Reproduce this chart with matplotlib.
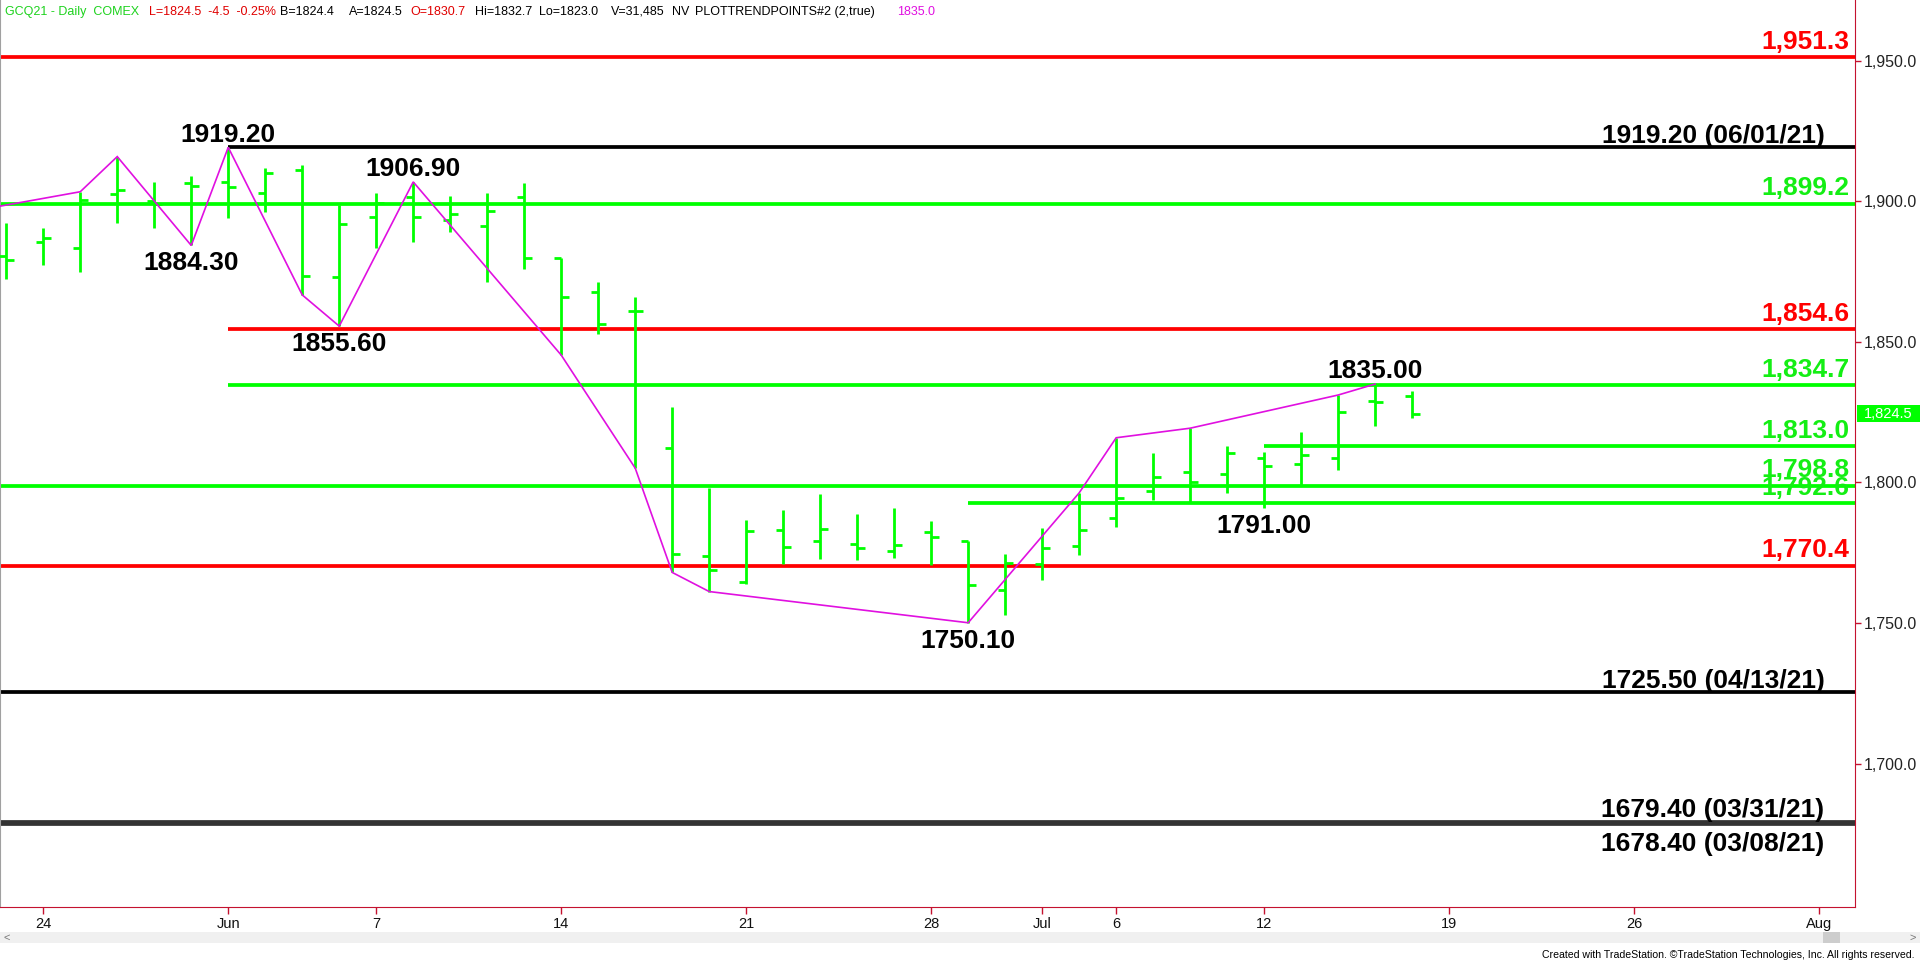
import matplotlib
matplotlib.use('Agg')
import matplotlib.pyplot as plt
from matplotlib.patches import Rectangle
from matplotlib.transforms import blended_transform_factory
import numpy as np

plt.rcParams['font.family'] = ['Liberation Sans', 'DejaVu Sans']

# daily OHLC, index 0 = 2021-05-21 (trading days only)
opens = [1880.6, 1885.5, 1883.4, 1902.5, 1900.0, 1906.5, 1907.0, 1903.1, 1911.1, 1872.9,
         1894.3, 1901.6, 1893.5, 1891.3, 1901.6, 1879.7, 1867.6, 1861.1, 1812.2, 1773.9,
         1764.5, 1783.0, 1779.3, 1778.1, 1775.7, 1782.3, 1779.3, 1761.8, 1771.0, 1777.5,
         1787.5, 1797.1, 1803.8, 1803.0, 1808.6, 1806.6, 1808.6, 1828.9, 1830.7]
highs = [1892.4, 1890.4, 1903.4, 1915.9, 1906.7, 1909.1, 1919.2, 1912.0, 1912.9, 1898.7,
         1903.1, 1906.9, 1901.9, 1903.1, 1906.4, 1880.0, 1871.2, 1866.1, 1826.7, 1798.2,
         1786.7, 1790.2, 1795.8, 1788.7, 1791.0, 1786.3, 1779.3, 1774.6, 1783.7, 1796.3,
         1815.9, 1810.4, 1819.3, 1813.0, 1810.9, 1818.1, 1831.1, 1835.0, 1832.7]
lows = [1872.2, 1877.4, 1875.0, 1892.4, 1890.4, 1884.3, 1893.9, 1896.1, 1866.7, 1855.6,
        1883.3, 1885.4, 1889.0, 1871.4, 1875.8, 1845.3, 1852.7, 1805.1, 1768.0, 1761.2,
        1763.8, 1770.9, 1772.7, 1772.4, 1773.0, 1770.7, 1750.1, 1752.9, 1765.3, 1774.2,
        1784.2, 1793.7, 1792.8, 1796.2, 1791.0, 1799.2, 1804.4, 1820.1, 1823.0]
closes = [1879.1, 1886.8, 1900.5, 1904.0, 1899.0, 1905.4, 1905.0, 1909.9, 1873.4, 1891.8,
          1899.3, 1894.3, 1895.5, 1896.6, 1879.7, 1865.9, 1856.4, 1861.1, 1774.5, 1768.9,
          1782.8, 1777.2, 1783.3, 1776.6, 1777.8, 1780.5, 1763.4, 1771.3, 1776.6, 1783.1,
          1794.3, 1801.8, 1800.0, 1810.6, 1805.9, 1809.8, 1824.9, 1828.5, 1824.5]

# trend points (swing highs / lows)
trend_idx = [-1, 2, 3, 5, 6, 8, 9, 11, 15, 17, 18, 19, 26, 29, 30, 32, 36, 37]
trend_px = [1896.3, 1903.4, 1915.9, 1884.3, 1919.2, 1866.7, 1855.6, 1906.9, 1845.3, 1805.1,
            1768.0, 1761.2, 1750.1, 1796.3, 1815.9, 1819.3, 1831.1, 1835.0]

# labelled swing points
swing_idx = [6, 11, 37, 5, 9, 26, 34]
swing_px = [1919.20, 1906.90, 1835.00, 1884.30, 1855.60, 1750.10, 1791.00]
swing_up = [True, True, True, False, False, False, False]

# horizontal levels
levels = [1951.3, 1919.2, 1899.2, 1854.6, 1834.7, 1813.0, 1798.8, 1792.6, 1770.4,
          1725.5, 1679.4, 1678.4]
level_start = [None, 6, None, 6, 6, 34, None, 26, None, None, None, None]
level_kind = ['r', 'k', 'g', 'r', 'g', 'g', 'g', 'g', 'r', 'k', 'd', 'd']
level_text = ['1,951.3', '1919.20 (06/01/21)', '1,899.2', '1,854.6', '1,834.7', '1,813.0',
              '1,798.8', '1,792.6', '1,770.4', '1725.50 (04/13/21)', '1679.40 (03/31/21)',
              '1678.40 (03/08/21)']

tick_pos = [1, 6, 10, 15, 20, 25, 28, 30, 34, 39, 44, 49]
tick_labels = ['24', 'Jun', '7', '14', '21', '28', 'Jul', '6', '12', '19', '26', 'Aug']
price_ticks = [1700, 1750, 1800, 1850, 1900, 1950]
last_price = 1824.5

GREEN = '#00ff00'
RED = '#ff0000'
MAG = '#e010e0'
AXRED = '#c4122f'
line_col = {'r': RED, 'g': GREEN, 'k': 'black', 'd': '#333333'}
text_col = {'r': RED, 'g': '#14ee14', 'k': 'black', 'd': 'black'}

W, H = 1920, 963
fig = plt.figure(figsize=(W / 100, H / 100), dpi=100)
ax = fig.add_axes([0, 56 / H, 1855 / W, 907 / H])
x0, x1 = -0.169, 49.97
ax.set_xlim(x0, x1)
ax.set_ylim(1649.0, 1971.6)

# levels
for lv, st, kd in zip(levels, level_start, level_kind):
    ax.hlines(lv, x0 if st is None else st, x1, color=line_col[kd], lw=2.7, zorder=2)

# OHLC bars
x = np.arange(len(opens))
tl = 0.2
b = ax.vlines(x, lows, highs, color=GREEN, lw=2.0, zorder=3)
o = ax.hlines(opens, x - tl, x, color=GREEN, lw=2.0, zorder=3)
c = ax.hlines(closes, x, x + tl, color=GREEN, lw=2.0, zorder=3)
for coll in (b, o, c):
    coll.set_capstyle('butt')

# trend line
ax.plot(trend_idx, trend_px, color=MAG, lw=1.2, zorder=4, solid_joinstyle='miter')

# swing labels
for i, p, up in zip(swing_idx, swing_px, swing_up):
    ax.annotate(f'{p:.2f}', (i, p), xytext=(0, 4 if up else -18), textcoords='offset points',
                ha='center', va='baseline', fontsize=19, fontweight='bold', zorder=5)

# level labels
for lv, kd, t in zip(levels, level_kind, level_text):
    if kd in ('r', 'g'):
        ax.annotate(t, (1, lv), xycoords=('axes fraction', 'data'), xytext=(-4, 6),
                    textcoords='offset points', ha='right', va='baseline',
                    fontsize=19, fontweight='bold', color=text_col[kd], zorder=5)
    else:
        below = t.startswith('1678')
        ax.annotate(t, (1, lv), xycoords=('axes fraction', 'data'), xytext=(-22, -19 if below else 3),
                    textcoords='offset points', ha='right', va='baseline',
                    fontsize=19, fontweight='bold', color=text_col[kd], zorder=5)

# axes styling
ax.spines['top'].set_visible(False)
ax.spines['left'].set_color('#a0a0a0')
ax.spines['right'].set_color(AXRED)
ax.spines['bottom'].set_color(AXRED)
ax.yaxis.tick_right()
ax.set_yticks(price_ticks)
ax.set_yticklabels([f'{v:,.1f}' for v in price_ticks])
ax.tick_params(axis='y', colors=AXRED, labelcolor='#222222', labelsize=11.5, length=4, width=1, pad=2)
ax.set_xticks(tick_pos)
ax.set_xticklabels(tick_labels)
ax.tick_params(axis='x', colors=AXRED, labelcolor='#111111', labelsize=10.5, length=5, width=1, pad=2)

# last price marker
tr = blended_transform_factory(fig.transFigure, ax.transData)
ax.add_patch(Rectangle((1857 / W, last_price - 2.9), 63 / W, 5.8, transform=tr,
                       facecolor=GREEN, edgecolor='none', clip_on=False, zorder=6))
ax.text(1888 / W, last_price, f'{last_price:,.1f}', transform=tr, color='white',
        fontsize=10.5, ha='center', va='center', clip_on=False, zorder=7)

# header
hy = 1 - 12 / H
head = [(5, 'GCQ21 - Daily  COMEX', '#1ed21e'), (149, 'L=1824.5  -4.5  -0.25%', '#e00000'),
        (280, 'B=1824.4', 'black'), (349, 'A=1824.5', 'black'), (410, 'O=1830.7', '#e00000'),
        (475, 'Hi=1832.7', 'black'), (539, 'Lo=1823.0', 'black'), (611, 'V=31,485', 'black'),
        (672, 'NV', 'black'), (695, 'PLOTTRENDPOINTS#2 (2,true)', 'black'), (897, '1835.0', MAG)]
for hx, t, col in head:
    fig.text(hx / W, hy, t, color=col, fontsize=9, ha='left', va='center')

# scrollbar and footer
fig.patches.append(Rectangle((0, 20 / H), 1, 11 / H, transform=fig.transFigure,
                             facecolor='#f0f0f0', edgecolor='none'))
fig.patches.append(Rectangle((1823 / W, 20 / H), 17 / W, 11 / H, transform=fig.transFigure,
                             facecolor='#cdcdcd', edgecolor='none'))
fig.text(4 / W, 25.5 / H, '<', color='#777777', fontsize=8, va='center')
fig.text(1910 / W, 25.5 / H, '>', color='#777777', fontsize=8, va='center')
fig.text(1915 / W, 8 / H, 'Created with TradeStation. \u00a9TradeStation Technologies, Inc. All rights reserved.',
         fontsize=7.6, ha='right', va='center', color='black')

fig.savefig('out.png', dpi=100, facecolor='white')
